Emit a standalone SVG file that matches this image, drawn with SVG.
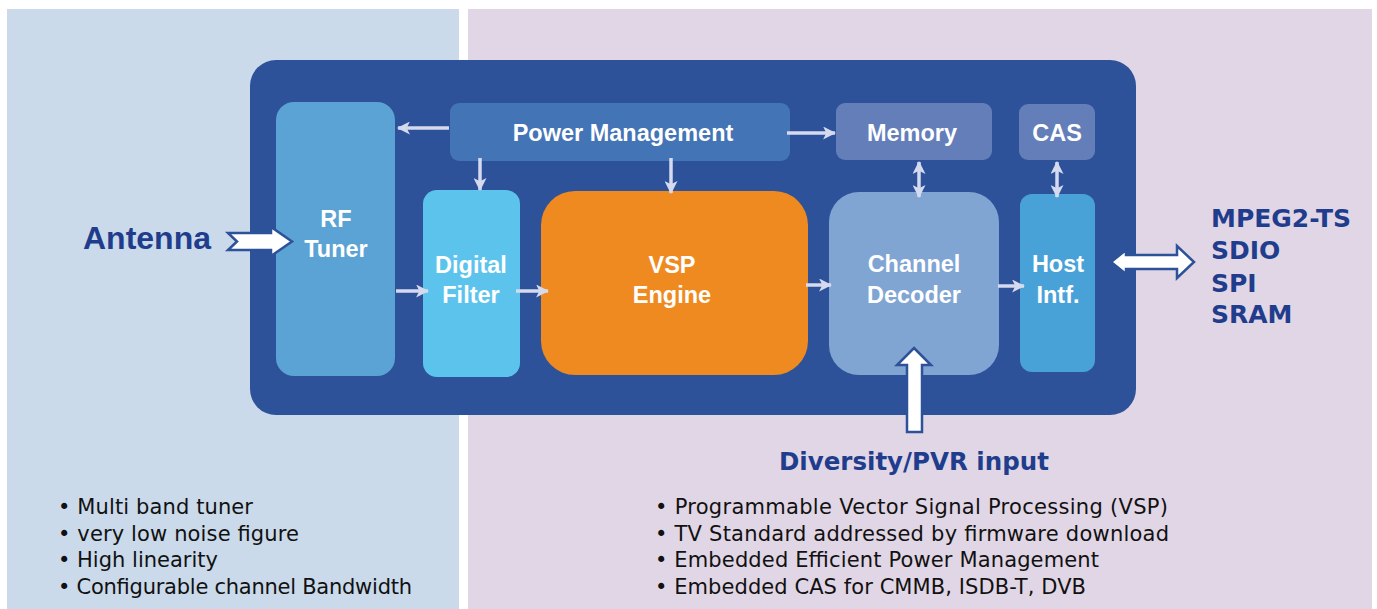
<svg xmlns="http://www.w3.org/2000/svg" width="1377" height="609" viewBox="0 0 1377 609">
<defs>
<style>
.lbl{font-family:"Liberation Sans",Arial,sans-serif;font-weight:bold;font-size:23.5px;fill:#ffffff;text-anchor:middle}
.ext{font-family:"DejaVu Sans",Verdana,sans-serif;font-weight:bold;fill:#1F3D8C}
.ant{font-family:"Liberation Sans",Arial,sans-serif;font-weight:bold;font-size:32px;fill:#1F3D8C}
.bul{font-family:"DejaVu Sans",Verdana,sans-serif;font-size:21px;fill:#111111}
.con{stroke:#D6DAEF;stroke-width:3.5;fill:none}
.big{fill:#ffffff;stroke:#2D5299;stroke-width:2.5;stroke-linejoin:miter}
</style>
<marker id="ah" viewBox="0 0 12 12" refX="11" refY="6" markerWidth="13" markerHeight="13" markerUnits="userSpaceOnUse" orient="auto-start-reverse">
<path d="M0,0 L12,6 L0,12 L3,6 z" fill="#D6DAEF"/>
</marker>
</defs>
<rect x="0" y="0" width="1377" height="609" fill="#ffffff"/>
<rect id="left-panel" x="7" y="9" width="452" height="600" fill="#CADAEA"/>
<rect id="right-panel" x="468" y="9" width="904" height="600" fill="#E1D6E5"/>
<rect id="chip" x="250" y="60" width="886" height="355" rx="26" fill="#2D5299"/>

<g id="rf-tuner">
<rect x="276" y="102" width="119" height="274" rx="18" fill="#5BA3D4"/>
<text class="lbl" x="336" y="227">RF</text>
<text class="lbl" x="336" y="257">Tuner</text>
</g>
<g id="power-management">
<rect x="450" y="103" width="340" height="58" rx="9" fill="#4374B6"/>
<text class="lbl" x="623" y="141">Power Management</text>
</g>
<g id="memory">
<rect x="836" y="103" width="156" height="57" rx="9" fill="#647EBA"/>
<text class="lbl" x="912" y="141">Memory</text>
</g>
<g id="cas">
<rect x="1019" y="104" width="76" height="56" rx="9" fill="#647EBA"/>
<text class="lbl" x="1057" y="141">CAS</text>
</g>
<g id="digital-filter">
<rect x="423" y="190" width="97" height="187" rx="14" fill="#5CC4EC"/>
<text class="lbl" x="471" y="273">Digital</text>
<text class="lbl" x="471" y="303">Filter</text>
</g>
<g id="vsp-engine">
<rect x="541" y="191" width="267" height="184" rx="34" fill="#EF8A20"/>
<text class="lbl" x="672" y="273">VSP</text>
<text class="lbl" x="672" y="303">Engine</text>
</g>
<g id="channel-decoder">
<rect x="829" y="192" width="170" height="183" rx="30" fill="#80A5D3"/>
<text class="lbl" x="914" y="272">Channel</text>
<text class="lbl" x="914" y="303">Decoder</text>
</g>
<g id="host-intf">
<rect x="1020" y="194" width="75" height="178" rx="12" fill="#48A2D8"/>
<text class="lbl" x="1058" y="272">Host</text>
<text class="lbl" x="1058" y="303">Intf.</text>
</g>

<g id="connectors">
<line class="con" x1="449" y1="128" x2="398" y2="128" marker-end="url(#ah)"/>
<line class="con" x1="787" y1="133" x2="835" y2="133" marker-end="url(#ah)"/>
<line class="con" x1="480" y1="158" x2="480" y2="190" marker-end="url(#ah)"/>
<line class="con" x1="671" y1="158" x2="671" y2="193" marker-end="url(#ah)"/>
<line class="con" x1="919" y1="162" x2="919" y2="197" marker-start="url(#ah)" marker-end="url(#ah)"/>
<line class="con" x1="1057" y1="162" x2="1057" y2="197" marker-start="url(#ah)" marker-end="url(#ah)"/>
<line class="con" x1="396" y1="291" x2="428" y2="291" marker-end="url(#ah)"/>
<line class="con" x1="516" y1="291" x2="548" y2="291" marker-end="url(#ah)"/>
<line class="con" x1="806" y1="285" x2="831" y2="285" marker-end="url(#ah)"/>
<line class="con" x1="998" y1="286" x2="1024" y2="286" marker-end="url(#ah)"/>
<polygon id="antenna-arrow" class="big" points="228,233 271,233 271,227 292,241.5 271,256 271,250 228,250 237,241.5"/>
<polygon id="io-arrow" class="big" points="1111,262 1126,250 1126,255 1177,255 1177,246 1194,262 1177,278 1177,269 1126,269 1126,274"/>
<polygon id="diversity-arrow" class="big" points="914,348 931,365 922,365 922,432 907,432 907,365 897,365"/>
</g>

<g id="antenna">
<text class="ant" x="83" y="249">Antenna</text>
</g>
<g id="outputs">
<text class="ext" font-size="25" x="1211" y="227">MPEG2-TS</text>
<text class="ext" font-size="25" x="1211" y="259">SDIO</text>
<text class="ext" font-size="25" x="1211" y="292">SPI</text>
<text class="ext" font-size="25" x="1211" y="323">SRAM</text>
</g>
<g id="diversity">
<text class="ext" font-size="24.5" x="779" y="470">Diversity/PVR input</text>
</g>
<g id="left-features">
<text class="bul" x="58" y="514" textLength="195" lengthAdjust="spacing">• Multi band tuner</text>
<text class="bul" x="58" y="541" textLength="241" lengthAdjust="spacing">• very low noise figure</text>
<text class="bul" x="58" y="567" textLength="160" lengthAdjust="spacing">• High linearity</text>
<text class="bul" x="58" y="594" textLength="354" lengthAdjust="spacing">• Configurable channel Bandwidth</text>
</g>
<g id="right-features">
<text class="bul" x="655" y="514" textLength="513" lengthAdjust="spacing">• Programmable Vector Signal Processing (VSP)</text>
<text class="bul" x="655" y="541" textLength="514" lengthAdjust="spacing">• TV Standard addressed by firmware download</text>
<text class="bul" x="655" y="567" textLength="444" lengthAdjust="spacing">• Embedded Efficient Power Management</text>
<text class="bul" x="655" y="594" textLength="431" lengthAdjust="spacing">• Embedded CAS for CMMB, ISDB-T, DVB</text>
</g>
</svg>
